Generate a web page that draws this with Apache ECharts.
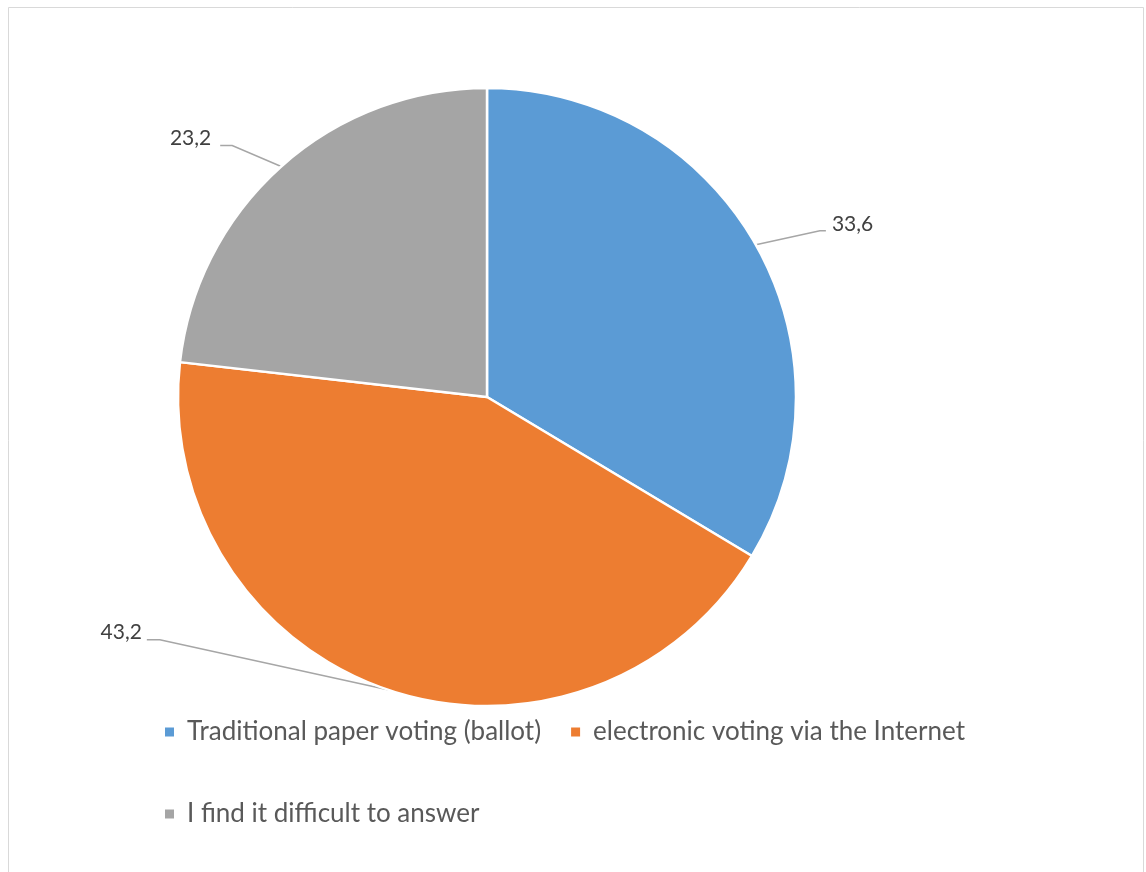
<!DOCTYPE html>
<html>
<head>
<meta charset="utf-8">
<style>
  html, body { margin: 0; padding: 0; background: #ffffff; }
  #chart { width: 1146px; height: 872px; }
</style>
<script src="https://cdn.jsdelivr.net/npm/echarts@6/dist/echarts.min.js"></script>
</head>
<body>
<div id="chart"></div>
<script>
// Voting preference survey, shares in percent
const categories = [
  'Traditional paper voting (ballot)',
  'electronic voting via the Internet',
  'I find it difficult to answer'
];
const values = [33.6, 43.2, 23.2];
const colors = ['#5B9BD5', '#ED7D31', '#A5A5A5'];

const FONT = 'Lato, "Open Sans", sans-serif';

// Leader line geometry per slice: elbow offset from the slice edge, short horizontal tail
const leader = [
  { elbow: [64, -14], tail: 6, side: 'right', gap: 6 },
  { elbow: [-228, -50], tail: -13, side: 'left', gap: 5 },
  { elbow: [-49, -21], tail: -12, side: 'left', gap: 9 }
];

const legendText = { fontFamily: FONT, fontSize: 26, color: '#595959', padding: [0, 0, 0, 7] };

const chart = echarts.init(document.getElementById('chart'), null, { renderer: 'canvas' });

chart.setOption({
  animation: false,
  backgroundColor: '#ffffff',
  graphic: [{
    type: 'rect',
    shape: { x: 8.5, y: 7.5, width: 1135, height: 900 },
    style: { fill: 'none', stroke: '#d9d9d9', lineWidth: 1 },
    silent: true
  }],
  legend: [
    {
      data: categories.slice(0, 2),
      left: 158, top: 714,
      orient: 'horizontal',
      icon: 'rect', itemWidth: 11, itemHeight: 11,
      itemGap: 28,
      textStyle: legendText,
      selectedMode: false
    },
    {
      data: categories.slice(2),
      left: 158, top: 796,
      orient: 'horizontal',
      icon: 'rect', itemWidth: 11, itemHeight: 11,
      textStyle: legendText,
      selectedMode: false
    }
  ],
  series: [{
    type: 'pie',
    center: [487, 397],
    radius: 309,
    startAngle: 90,
    clockwise: true,
    color: colors,
    data: categories.map((name, i) => ({ name, value: values[i] })),
    itemStyle: { borderColor: '#ffffff', borderWidth: 2.5 },
    label: {
      show: true,
      position: 'outside',
      formatter: p => String(p.value).replace('.', ','),
      fontFamily: FONT,
      fontSize: 21,
      color: '#404040'
    },
    labelLine: {
      show: true,
      length: 20,
      length2: 10,
      lineStyle: { color: '#A6A6A6', width: 1.5 }
    },
    labelLayout: function (params) {
      const pts = params.labelLinePoints;
      if (!pts) return {};
      const cfg = leader[params.dataIndex];
      const a = pts[0];
      const elbow = [a[0] + cfg.elbow[0], a[1] + cfg.elbow[1]];
      const end = [elbow[0] + cfg.tail, elbow[1]];
      const w = params.labelRect.width;
      const h = params.labelRect.height;
      const x = cfg.side === 'right' ? end[0] + cfg.gap : end[0] - cfg.gap - w;
      return {
        x: x,
        y: end[1] - 7 - h / 2,
        align: 'left',
        verticalAlign: 'top',
        labelLinePoints: [a, elbow, end]
      };
    }
  }]
});
</script>
</body>
</html>
